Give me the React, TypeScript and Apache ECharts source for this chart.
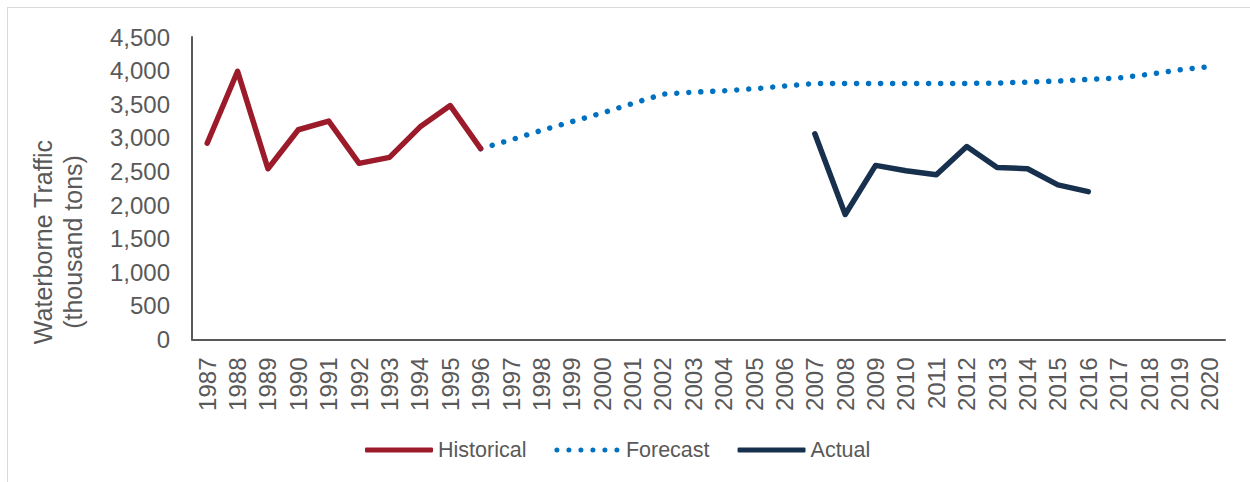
import React, { useEffect, useRef } from "react";
import * as echarts from "echarts";

const years: string[] = [];
for (let y = 1987; y <= 2020; y++) years.push(String(y));

const historical: (number | null)[] = [
  2920, 3990, 2540, 3120, 3250, 2620, 2710, 3160, 3480, 2840,
];
const forecast: (number | null)[] = [
  2840, 2970, 3110, 3240, 3370, 3510, 3650, 3680, 3700, 3730, 3770,
  3810, 3810, 3810, 3810, 3810, 3810, 3815, 3830, 3845, 3870, 3890,
  3945, 4010, 4060,
];
const actual: (number | null)[] = [
  3060, 1860, 2590, 2510, 2450, 2870, 2560, 2540, 2300, 2200,
];

const yTicks = { min: 0, max: 4500, interval: 500 };

function pad(arr: (number | null)[], startYear: number): (number | null)[] {
  return years.map((y) => {
    const i = Number(y) - startYear;
    return i >= 0 && i < arr.length ? arr[i] : null;
  });
}

const FONT = "Liberation Sans, Arial, sans-serif";
const GREY = "#595959";
const RED = "#9B1B2B";
const BLUE = "#0070C0";
const NAVY = "#17304D";

// six dots for the forecast legend icon
function dotsPath(): string {
  let d = "path://";
  const r = 2.5;
  for (let i = 0; i < 6; i++) {
    const cx = r + i * 12;
    d += `M${cx - r},${r}A${r},${r},0,1,0,${cx + r},${r}A${r},${r},0,1,0,${cx - r},${r}Z`;
  }
  return d;
}

export default function App() {
  const ref = useRef<HTMLDivElement>(null);
  useEffect(() => {
    if (!ref.current) return;
    const chart = echarts.init(ref.current, undefined, { renderer: "svg" });
    chart.setOption({
      animation: false,
      backgroundColor: "transparent",
      grid: { left: 192, right: 25, top: 37, bottom: 142.5, containLabel: false },
      xAxis: {
        type: "category",
        data: years,
        boundaryGap: true,
        axisLine: { lineStyle: { color: GREY, width: 2 } },
        axisTick: { show: false },
        axisLabel: {
          rotate: 90,
          interval: 0,
          color: GREY,
          fontFamily: FONT,
          fontSize: 24,
          margin: 18,
        },
      },
      yAxis: {
        type: "value",
        min: yTicks.min,
        max: yTicks.max,
        interval: yTicks.interval,
        splitLine: { show: false },
        axisLine: { show: true, lineStyle: { color: GREY, width: 2 } },
        axisTick: { show: false },
        axisLabel: {
          color: GREY,
          fontFamily: FONT,
          fontSize: 24,
          margin: 22,
          formatter: (v: number) => v.toLocaleString("en-US"),
        },
      },
      legend: {
        top: 434,
        left: 360,
        itemWidth: 68,
        itemHeight: 5,
        itemGap: 28,
        textStyle: { color: GREY, fontFamily: FONT, fontSize: 21.5 },
        data: [
          { name: "Historical", icon: "roundRect", itemStyle: { color: RED } },
          { name: "Forecast", icon: dotsPath(), itemStyle: { color: BLUE } },
          { name: "Actual", icon: "roundRect", itemStyle: { color: NAVY } },
        ],
      },
      graphic: [
        {
          type: "text",
          x: 58,
          y: 242,
          rotation: Math.PI / 2,
          style: {
            text: "Waterborne Traffic\n(thousand tons)",
            fill: GREY,
            font: `25px ${FONT}`,
            align: "center",
            verticalAlign: "middle",
            lineHeight: 30,
          },
        },
      ],
      series: [
        {
          name: "Historical",
          type: "line",
          data: pad(historical, 1987),
          symbol: "none",
          itemStyle: { color: RED },
          lineStyle: { color: RED, width: 5.5, cap: "round", join: "round" },
        },
        {
          name: "Forecast",
          type: "line",
          data: pad(forecast, 1996),
          symbol: "none",
          z: 1,
          itemStyle: { color: BLUE },
          lineStyle: {
            color: BLUE,
            width: 5.5,
            type: [0.01, 12],
            cap: "round",
          },
        },
        {
          name: "Actual",
          type: "line",
          data: pad(actual, 2007),
          symbol: "none",
          itemStyle: { color: NAVY },
          lineStyle: { color: NAVY, width: 5.5, cap: "round", join: "round" },
        },
      ],
    });
    return () => chart.dispose();
  }, []);

  return (
    <div
      style={{
        position: "fixed",
        left: 0,
        top: 0,
        width: 1250,
        height: 482,
        background: "#fff",
        overflow: "hidden",
      }}
    >
      <div
        style={{
          position: "absolute",
          left: 7,
          top: 7,
          width: 1400,
          height: 700,
          border: "1px solid #D9D9D9",
          boxSizing: "border-box",
        }}
      />
      <div ref={ref} style={{ position: "absolute", left: 0, top: 0, width: 1250, height: 482 }} />
    </div>
  );
}
